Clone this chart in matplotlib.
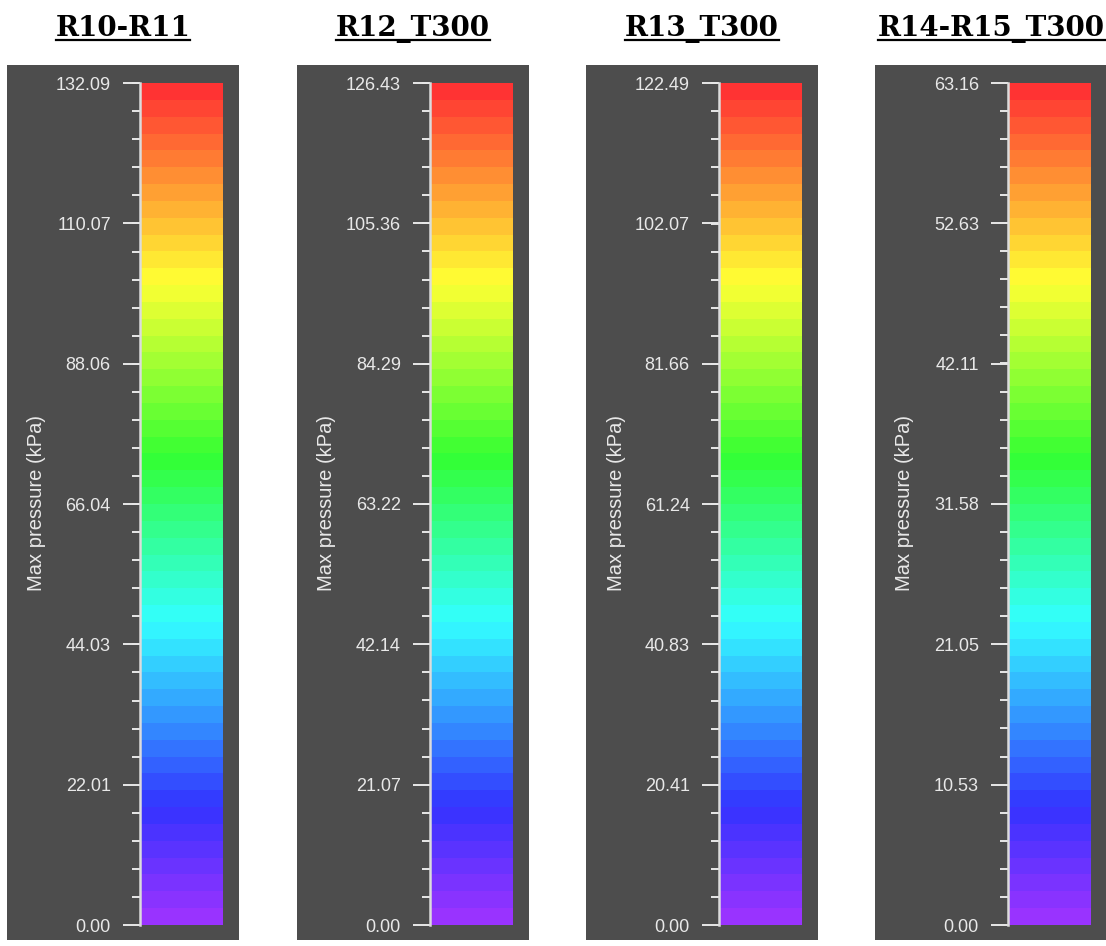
import numpy as np
import matplotlib
matplotlib.use('Agg')
import matplotlib.pyplot as plt
from matplotlib.colors import LinearSegmentedColormap, BoundaryNorm
from matplotlib.cm import ScalarMappable
from matplotlib.ticker import AutoMinorLocator
from matplotlib.lines import Line2D

# chart data
titles = ['R10-R11', 'R12_T300', 'R13_T300', 'R14-R15_T300']
tick_values = [
    [0.00, 22.01, 44.03, 66.04, 88.06, 110.07, 132.09],
    [0.00, 21.07, 42.14, 63.22, 84.29, 105.36, 126.43],
    [0.00, 20.41, 40.83, 61.24, 81.66, 102.07, 122.49],
    [0.00, 10.53, 21.05, 31.58, 42.11, 52.63, 63.16],
]
axis_label = 'Max pressure (kPa)'
n_bands = 50

# colour stops of the rainbow map (purple -> red)
stops = [(0.0, '#9933ff'), (0.133, '#3333ff'), (0.359, '#33ffff'),
         (0.556, '#33ff33'), (0.77, '#ffff33'), (1.0, '#ff3333')]
cmap = LinearSegmentedColormap.from_list('pv', stops).resampled(n_bands)

W, H = 1106, 946
fig = plt.figure(figsize=(W / 100, H / 100), dpi=100)
fig.patch.set_facecolor('white')

bg_lefts = [7, 297, 586, 875]
bg_w, bg_top, bg_bot = 232, 65, 940
bar_off, bar_w, bar_top, bar_bot = 133, 83, 83, 925
fg = '#e8e8e8'

title_texts = []
for i, title in enumerate(titles):
    x0 = bg_lefts[i]
    bg = fig.add_axes([x0 / W, 1 - bg_bot / H, bg_w / W, (bg_bot - bg_top) / H])
    bg.set_facecolor('#4d4d4d')
    bg.set_xticks([])
    bg.set_yticks([])
    for s in bg.spines.values():
        s.set_visible(False)

    vmax = tick_values[i][-1]
    cax = fig.add_axes([(x0 + bar_off) / W, 1 - bar_bot / H, bar_w / W, (bar_bot - bar_top) / H])
    bounds = np.linspace(0, vmax, n_bands + 1)
    norm = BoundaryNorm(bounds, cmap.N)
    cb = fig.colorbar(ScalarMappable(norm=norm, cmap=cmap), cax=cax,
                      boundaries=bounds, ticks=tick_values[i], spacing='proportional')
    cb.outline.set_visible(False)
    cax.yaxis.set_ticks_position('left')
    cax.yaxis.set_label_position('left')
    cax.set_yticks(tick_values[i])
    cax.set_yticklabels(['%.2f' % v for v in tick_values[i]])
    cax.yaxis.set_minor_locator(AutoMinorLocator(5))
    cax.tick_params(axis='y', which='major', length=12, width=1.4, color=fg,
                    labelcolor=fg, labelsize=13, pad=9)
    cax.tick_params(axis='y', which='minor', length=6, width=1.4, color=fg)
    for lab in cax.get_yticklabels():
        lab.set_family('Liberation Sans')
    cax.add_line(Line2D([0, 0], [0, 1], transform=cax.transAxes, color='#dcdcdc',
                        lw=1.8, clip_on=False))
    fig.text((x0 + 30) / W, 1 - 503 / H, axis_label, rotation=90, color=fg,
             fontsize=14.5, family='Liberation Sans', ha='center', va='center')

    t = fig.text((x0 + bg_w / 2) / W, 1 - 36 / H, title, ha='center', va='baseline',
                 fontsize=20, fontweight='bold', family='DejaVu Serif', color='black')
    title_texts.append(t)

# underline titles
fig.canvas.draw()
r = fig.canvas.get_renderer()
for t in title_texts:
    bb = t.get_window_extent(r)
    fig.add_artist(Line2D([bb.x0 / W, bb.x1 / W], [1 - 40.5 / H, 1 - 40.5 / H],
                          transform=fig.transFigure, color='black', lw=1.6))

fig.savefig('out.png', dpi=100, facecolor='white')
